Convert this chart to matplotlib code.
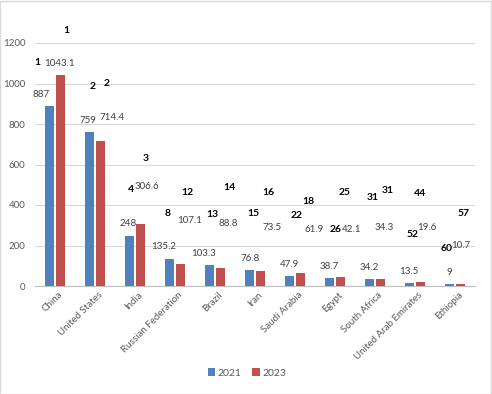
import matplotlib
matplotlib.use("Agg")
import matplotlib.pyplot as plt
from matplotlib.patches import Rectangle
import numpy as np

plt.rcParams['font.family'] = ['Lato', 'DejaVu Sans']

countries = ["China", "United States", "India", "Russian Federation", "Brazil", "Iran",
             "Saudi Arabia", "Egypt", "South Africa", "United Arab Emirates", "Ethiopia"]
values_2021 = [887, 759, 248, 135.2, 103.3, 76.8, 47.9, 38.7, 34.2, 13.5, 9]
values_2023 = [1043.1, 714.4, 306.6, 107.1, 88.8, 73.5, 61.9, 42.1, 34.3, 19.6, 10.7]
rank_2021 = [1, 2, 4, 8, 13, 15, 22, 26, 31, 52, 60]
rank_2023 = [1, 2, 3, 12, 14, 16, 18, 25, 31, 44, 57]
series_names = ["2021", "2023"]
yticks = [0, 200, 400, 600, 800, 1000, 1200]

# free-floating label placements (category units, data units) as in the reference
pos_2021_x = [-0.35, 0.825, 1.825, 2.725, 3.725, 4.875, 5.85, 6.85, 7.85, 8.85, 9.85]
pos_2023 = [(0.1, 1101), (1.425, 830), (2.3, 489), (3.375, 321), (4.325, 311), (5.425, 291),
            (6.475, 281), (7.425, 281), (8.225, 291), (9.3, 291), (10.15, 198)]
rank21_pos = [(-0.45, 1106), (0.95, 983), (1.9, 479), (2.825, 356), (3.925, 351), (4.95, 360),
              (6.05, 346), (7.025, 277), (7.95, 435), (8.95, 252), (9.8, 183)]
rank23_pos = [(0.275, 1264), (1.3, 998), (2.275, 632), (3.3, 464), (4.35, 484), (5.325, 464),
              (6.325, 415), (7.25, 464), (8.325, 474), (9.125, 459), (10.225, 360)]

blue = "#4F81BD"
red = "#C0504D"
grid_c = "#D9D9D9"
txt_c = "#404040"
tick_c = "#595959"

fig = plt.figure(figsize=(4.92, 3.94), dpi=100)
ax = fig.add_axes([35/492, 1 - 286/394, 440/492, (286-43)/394])

x = np.arange(len(countries))
w = 0.225
off = 0.1375
ax.bar(x - off, values_2021, width=w, color=blue, label=series_names[0], zorder=3)
ax.bar(x + off, values_2023, width=w, color=red, label=series_names[1], zorder=3)

ax.set_xlim(-0.5, len(countries) - 0.5)
ax.set_ylim(0, 1200)
ax.set_yticks(yticks)
ax.set_yticklabels([str(t) for t in yticks])
ax.yaxis.grid(True, color=grid_c, linewidth=0.8, zorder=0)
ax.set_axisbelow(True)
for s in ["top", "right", "left"]:
    ax.spines[s].set_visible(False)
ax.spines["bottom"].set_color("#BFBFBF")
ax.spines["bottom"].set_linewidth(0.8)
ax.tick_params(axis="y", length=0, pad=7, labelsize=7, labelcolor=tick_c)
ax.tick_params(axis="x", length=0, pad=3, labelsize=7, labelcolor=tick_c)
ax.set_xticks(x)
ax.set_xticklabels(countries, rotation=45, ha="right", va="top", rotation_mode="anchor")
for lbl in ax.get_xticklabels():
    lbl.set_transform(lbl.get_transform() + matplotlib.transforms.ScaledTranslation(3/100, 0, fig.dpi_scale_trans))

# value labels
for i, v in enumerate(values_2021):
    ax.annotate(f"{v:g}", xy=(pos_2021_x[i], v), xytext=(0, 12), textcoords="offset pixels",
                ha="center", va="center", fontsize=7, color=txt_c, annotation_clip=False)
for i, v in enumerate(values_2023):
    ax.text(pos_2023[i][0], pos_2023[i][1], f"{v:g}", ha="center", va="center",
            fontsize=7, color=txt_c, clip_on=False)
for i, r in enumerate(rank_2021):
    ax.text(rank21_pos[i][0], rank21_pos[i][1], str(r), ha="center", va="center",
            fontsize=7.5, fontweight="bold", color="black", clip_on=False)
for i, r in enumerate(rank_2023):
    ax.text(rank23_pos[i][0], rank23_pos[i][1], str(r), ha="center", va="center",
            fontsize=7.5, fontweight="bold", color="black", clip_on=False)

leg = fig.legend(loc="center", bbox_to_anchor=(247/492, 1 - 373/394), ncol=2, frameon=False,
                 fontsize=7.5, handlelength=0.7, handleheight=0.7, handletextpad=0.3,
                 columnspacing=1.0, labelcolor=tick_c)

fig.patches.append(Rectangle((0.001, 0.001), 0.997, 0.996, transform=fig.transFigure,
                             fill=False, edgecolor=grid_c, linewidth=1))

fig.savefig("out.png", dpi=100)
